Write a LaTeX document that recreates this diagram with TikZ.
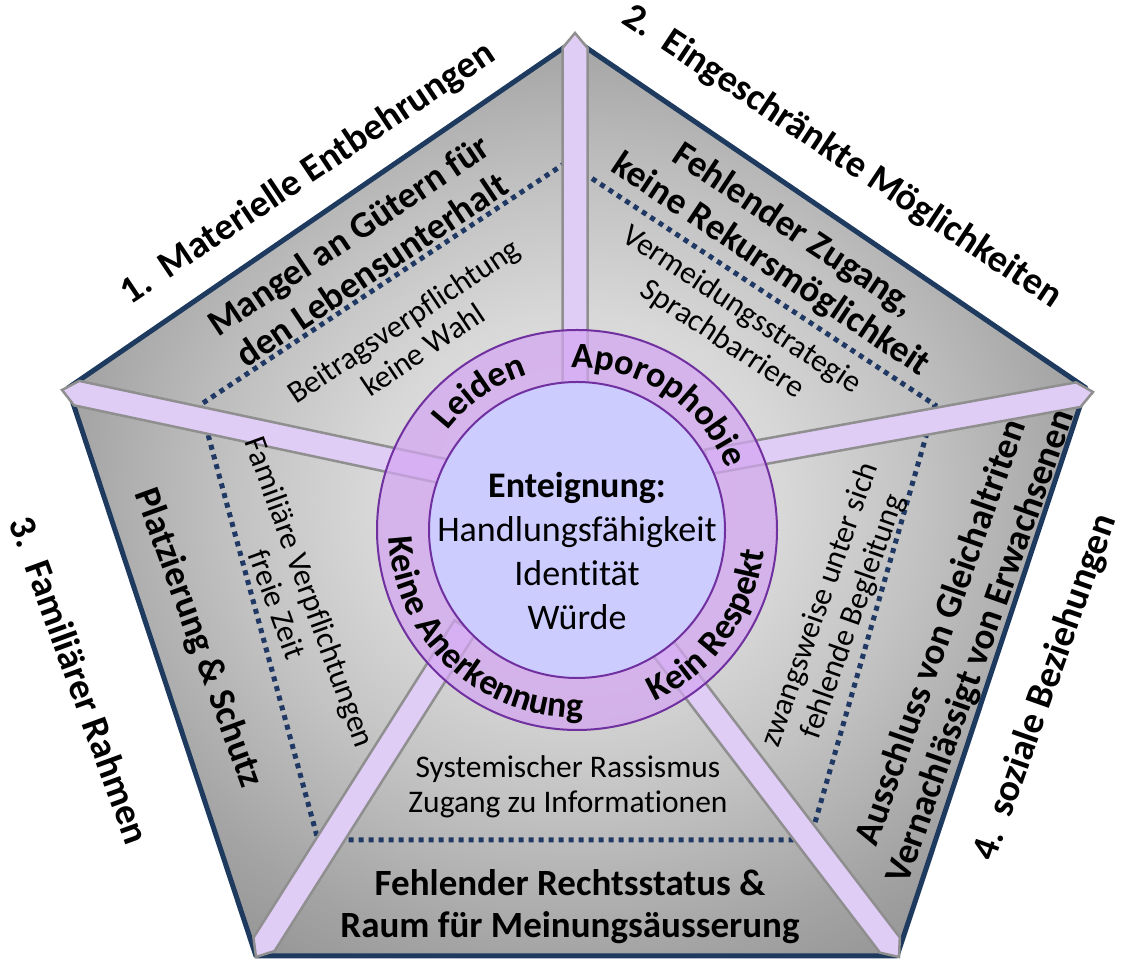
\documentclass[tikz,border=0pt]{standalone}
\usepackage{fontspec}
\setmainfont{Carlito}[Ligatures=NoCommon]
\usetikzlibrary{calc, decorations.text}

\definecolor{navy}{HTML}{1F3A5F}
\definecolor{dotnavy}{HTML}{1F3864}
\definecolor{spokefill}{HTML}{E0CDF6}
\definecolor{spokeline}{HTML}{8F8F8F}
\definecolor{ringfill}{HTML}{D4A5F2}
\definecolor{ringline}{HTML}{7030A0}
\definecolor{corefill}{HTML}{CCCCFF}
\definecolor{greyA}{HTML}{E8E8E8}
\definecolor{greyB}{HTML}{D8D8D8}
\definecolor{greyC}{HTML}{C2C2C2}
\definecolor{greyD}{HTML}{A4A4A4}
\definecolor{greyE}{HTML}{8E8E8E}
\definecolor{greyF}{HTML}{808080}
\pgfdeclareradialshading{pentashade}{\pgfpoint{0bp}{0bp}}{color(0bp)=(greyA); color(10bp)=(greyB); color(17bp)=(greyC); color(25bp)=(greyD); color(32bp)=(greyE); color(36bp)=(greyE); color(50bp)=(greyF)}

\newcommand{\bigbf}{\fontsize{38}{43}\selectfont\bfseries}
\newcommand{\keybf}{\fontsize{37}{42}\selectfont\bfseries}
\newcommand{\smalltxt}{\fontsize{31.5}{35}\selectfont}
\newcommand{\midtxt}{\fontsize{36}{44}\selectfont}
\newcommand{\ringbf}{\fontsize{36}{36}\selectfont\bfseries}
\newcommand{\spoke}[2]{%
  \coordinate (sb) at ($(#2)!15pt!(#1)$);
  \filldraw[spokebar] ($(#1)!12.5pt!90:(#2)$) -- ($(sb)!12.5pt!-90:(#1)$) -- (#2)
    -- ($(sb)!12.5pt!90:(#1)$) -- ($(#1)!12.5pt!-90:(#2)$) -- cycle;}

\tikzset{
  border/.style={draw=navy, line width=5pt, line join=round},
  dotline/.style={draw=dotnavy, line width=5pt, dash pattern=on 5pt off 5pt},
  spokebar/.style={fill=spokefill, draw=spokeline, line width=2.5pt, line join=miter},
  headlabel/.style={font=\bigbf, inner sep=0pt},
  keylabel/.style={font=\keybf, align=center, inner sep=0pt},
  notelabel/.style={font=\smalltxt, align=center, inner sep=0pt},
  ringlabel/.style 2 args={decorate, decoration={text along path, text align=center, text={|\ringbf\color{#1}|#2}}},
}

\begin{document}
\begin{tikzpicture}[x=1pt,y=1pt]
\useasboundingbox (0,0) rectangle (1124,960);
\coordinate (C) at (577,430);
\coordinate (pT) at (575,920);
\coordinate (pR) at (1086,572);
\coordinate (pBR) at (897,4);
\coordinate (pBL) at (256,4);
\coordinate (pL) at (68,572);
\coordinate (dT) at (567,798);
\coordinate (dR) at (935,555);
\coordinate (dBR) at (810,120);
\coordinate (dBL) at (318,120);
\coordinate (dL) at (200,555);
\coordinate (tT) at (575,927);
\coordinate (tR) at (1093,568);
\coordinate (tBR) at (899,3);
\coordinate (tBL) at (256,3);
\coordinate (tL) at (62,570);
\coordinate (sT) at (575,575);
\coordinate (sR) at (707,498);
\coordinate (sBR) at (663,312);
\coordinate (sBL) at (465,333);
\coordinate (sL) at (447,488);

\shade[shading=pentashade] (pT) -- (pR) -- (pBR) -- (pBL) -- (pL) -- cycle;
\draw[border] (pT) -- (pR) -- (pBR) -- (pBL) -- (pL) -- cycle;
\draw[dotline] (dT) -- (dR) -- (dBR) -- (dBL) -- (dL) -- cycle;
\foreach \s/\t in {sT/tT, sR/tR, sBR/tBR, sBL/tBL, sL/tL} {\spoke{\s}{\t}}

\node[headlabel, rotate=33.8] (head1) at (308,786) {1.\ \ Materielle Entbehrungen};
\node[headlabel, rotate=-33.6] (head2) at (842,803) {2.\ \ Eingeschränkte Möglichkeiten};
\node[headlabel, rotate=-70] (head3) at (80,280) {3.\ \ Familiärer Rahmen};
\node[headlabel, rotate=70.5] (head4) at (1046,272) {4.\ \ soziale Beziehungen};

\node[keylabel, rotate=33.8] (key1) at (360,708) {Mangel an Gütern für\\den Lebensunterhalt};
\node[notelabel, rotate=33.8] (note1) at (413,625) {Beitragsverpflichtung\\keine Wahl};
\node[keylabel, rotate=-33.6] (key2) at (782,712) {Fehlender Zugang,\\keine Rekursmöglichkeit};
\node[notelabel, rotate=-33.6] (note2) at (732,635) {Vermeidungsstrategie\\Sprachbarriere};
\node[keylabel, rotate=-70] (key3) at (198,322) {Platzierung \& Schutz};
\node[notelabel, rotate=-70] (note3) at (294,362) {Familiäre Verpflichtungen\\freie Zeit};
\node[keylabel, rotate=70.5] (key4) at (962,320) {Ausschluss von Gleichaltriten\\Vernachlässigt von Erwachsenen};
\node[notelabel, rotate=70.5] (note4) at (837,349) {zwangsweise unter sich\\fehlende Begleitung};
\node[notelabel] (note5) at (568,173) {Systemischer Rassismus\\Zugang zu Informationen};
\node[keylabel] (key5) at (570,53) {Fehlender Rechtsstatus \&\\Raum für Meinungsäusserung};

\fill[ringfill, fill opacity=0.72] (C) circle[radius=200];
\fill[corefill] (C) circle[radius=148];
\draw[ringline, line width=2pt] (C) circle[radius=200] (C) circle[radius=148];
\node[font=\midtxt, align=center, inner sep=0pt] (core) at (577,409) {\textbf{Enteignung:}\\Handlungsfähigkeit\\Identität\\Würde};

\foreach \d/\c in {1.8/black!35, 0/black} {
  \begin{scope}[shift={(\d,-\d)}]
  \path[ringlabel={\c}{Leiden}] (C) ++(165:163) arc[start angle=165, end angle=85, radius=163];
  \path[ringlabel={\c}{Aporophobie}] (C) ++(100:162) arc[start angle=100, end angle=14, radius=162];
  \path[ringlabel={\c}{Keine Anerkennung}] (C) ++(153:188) arc[start angle=153, end angle=301, radius=188];
  \path[ringlabel={\c}{Kein Respekt}] (C) ++(276:188) arc[start angle=276, end angle=372, radius=188];
  \end{scope}
}
\end{tikzpicture}
\end{document}
